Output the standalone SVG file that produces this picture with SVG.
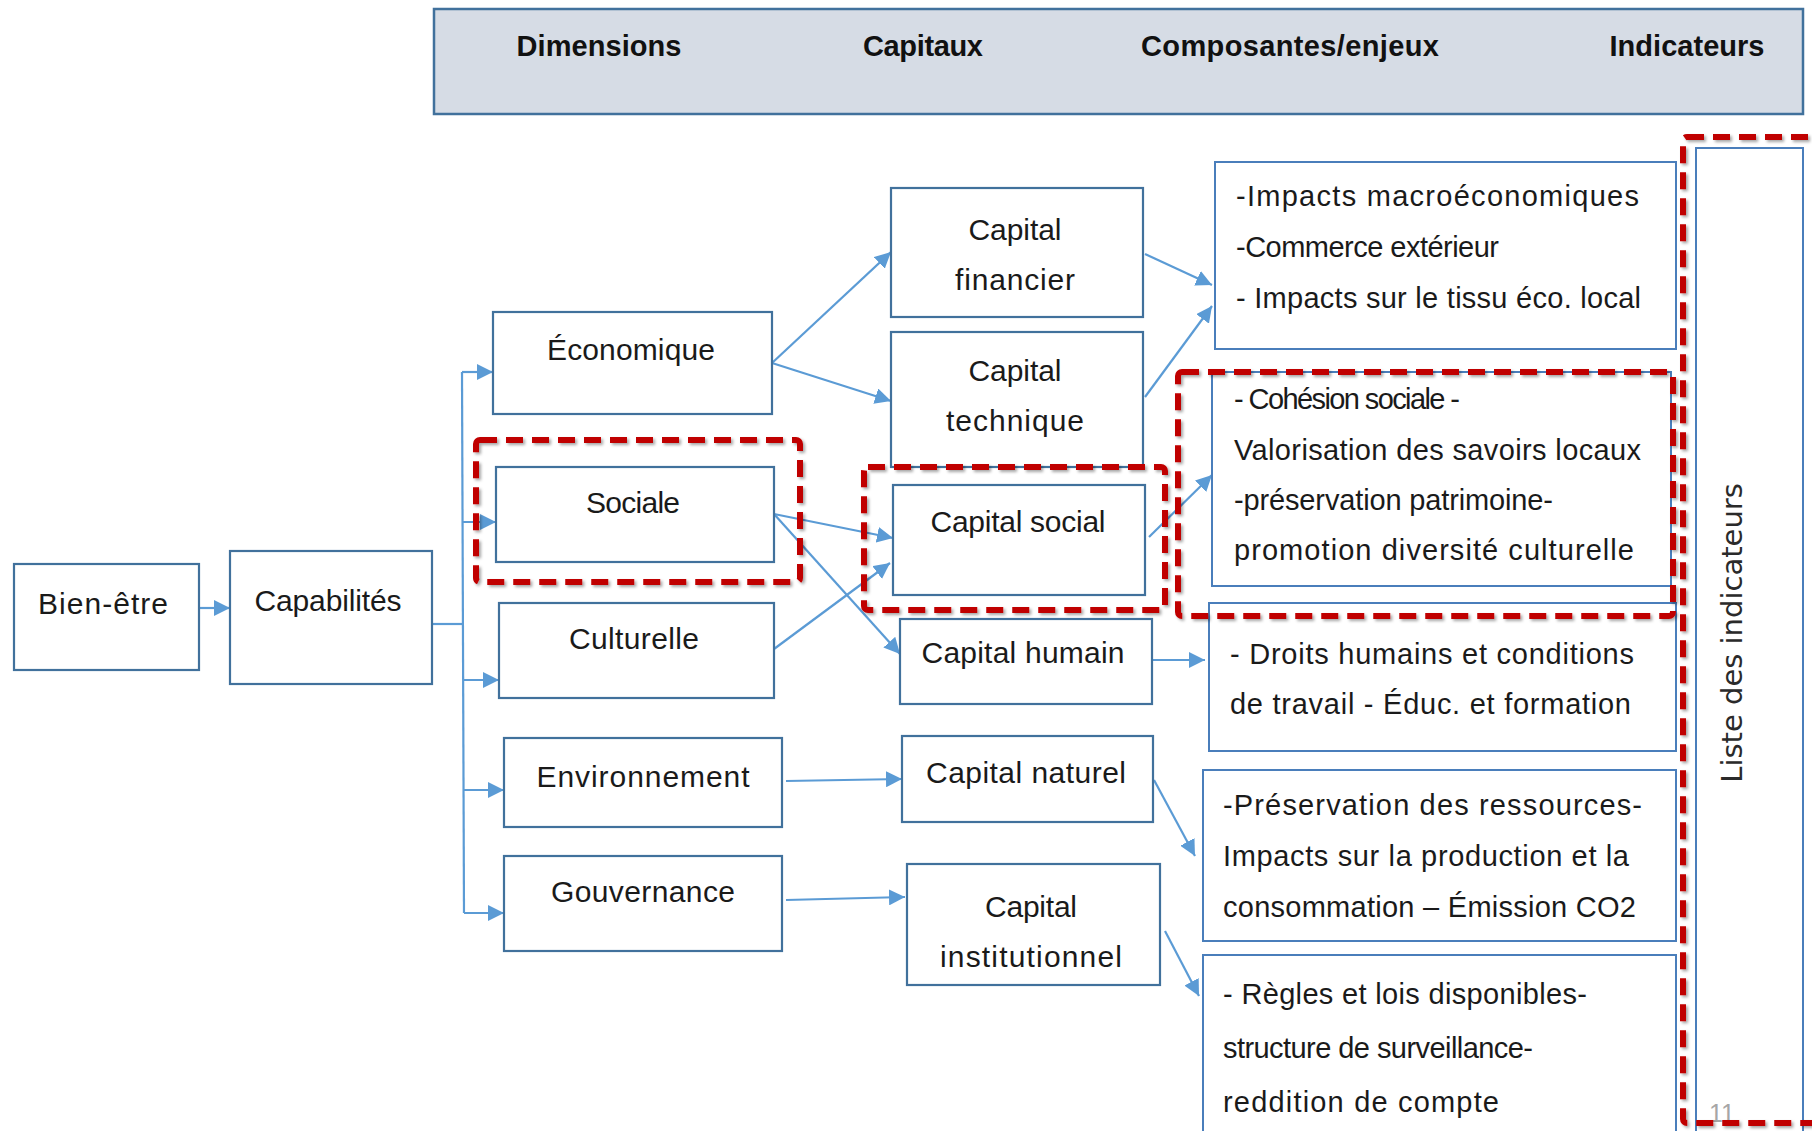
<svg xmlns="http://www.w3.org/2000/svg" width="1812" height="1131" viewBox="0 0 1812 1131">
<defs>
<style>
.node{fill:#fff;stroke:#41719c;stroke-width:2.2}
.rbox{fill:#fff;stroke:#4a7ebb;stroke-width:2}
.t{font-family:"Liberation Sans",Arial,sans-serif;font-size:30px;fill:#1a1a1a;text-anchor:middle}
.tl{font-family:"Liberation Sans",Arial,sans-serif;font-size:29px;fill:#1a1a1a}
.h{font-family:"Liberation Sans",Arial,sans-serif;font-size:29px;font-weight:bold;fill:#111;text-anchor:middle}
.c{fill:none;stroke:#5b9bd5;stroke-width:2.2}
.red{fill:none;stroke:#c00000;stroke-width:6;stroke-dasharray:17 9;filter:url(#sh)}
</style>
<marker id="arr" markerUnits="userSpaceOnUse" viewBox="0 0 10 10" markerWidth="16" markerHeight="16" refX="10" refY="5" orient="auto">
<path d="M0,0 L10,5 L0,10 z" fill="#5b9bd5"/>
</marker>
<filter id="sh" x="-5%" y="-5%" width="110%" height="110%">
<feDropShadow dx="2" dy="2" stdDeviation="1.5" flood-color="#000" flood-opacity="0.35"/>
</filter>
</defs>
<rect width="1812" height="1131" fill="#fff"/>

<g id="header">
<rect x="434" y="9" width="1369" height="105" fill="#d6dce5" stroke="#41719c" stroke-width="2.5"/>
<text class="h" x="599" y="56" textLength="165" lengthAdjust="spacing">Dimensions</text>
<text class="h" x="923" y="56" textLength="120" lengthAdjust="spacing">Capitaux</text>
<text class="h" x="1290" y="56" textLength="298" lengthAdjust="spacing">Composantes/enjeux</text>
<text class="h" x="1687" y="56" textLength="155" lengthAdjust="spacing">Indicateurs</text>
</g>

<g id="connectors">
<line class="c" x1="199" y1="608" x2="230" y2="608" marker-end="url(#arr)"/>
<line class="c" x1="432" y1="624" x2="462" y2="624"/>
<line class="c" x1="462" y1="372" x2="464" y2="913"/>
<line class="c" x1="462" y1="372" x2="493" y2="372" marker-end="url(#arr)"/>
<line class="c" x1="463" y1="522" x2="496" y2="522" marker-end="url(#arr)"/>
<line class="c" x1="463" y1="680" x2="499" y2="680" marker-end="url(#arr)"/>
<line class="c" x1="464" y1="790" x2="504" y2="790" marker-end="url(#arr)"/>
<line class="c" x1="464" y1="913" x2="504" y2="913" marker-end="url(#arr)"/>
<line class="c" x1="772" y1="363" x2="891" y2="252" marker-end="url(#arr)"/>
<line class="c" x1="772" y1="363" x2="891" y2="401" marker-end="url(#arr)"/>
<line class="c" x1="774" y1="514" x2="893" y2="538" marker-end="url(#arr)"/>
<line class="c" x1="774" y1="514" x2="900" y2="654" marker-end="url(#arr)"/>
<line class="c" x1="774" y1="649" x2="890" y2="563" marker-end="url(#arr)"/>
<line class="c" x1="786" y1="781" x2="902" y2="779" marker-end="url(#arr)"/>
<line class="c" x1="786" y1="900" x2="905" y2="897" marker-end="url(#arr)"/>
<line class="c" x1="1145" y1="254" x2="1212" y2="285" marker-end="url(#arr)"/>
<line class="c" x1="1145" y1="397" x2="1212" y2="306" marker-end="url(#arr)"/>
<line class="c" x1="1149" y1="537" x2="1212" y2="475" marker-end="url(#arr)"/>
<line class="c" x1="1152" y1="660" x2="1205" y2="660" marker-end="url(#arr)"/>
<line class="c" x1="1154" y1="780" x2="1195" y2="856" marker-end="url(#arr)"/>
<line class="c" x1="1165" y1="931" x2="1199" y2="996" marker-end="url(#arr)"/>
</g>

<g id="bien-etre"><rect class="node" x="14" y="564" width="185" height="106"/><text class="t" x="103" y="614" textLength="130" lengthAdjust="spacing">Bien-être</text></g>
<g id="capabilites"><rect class="node" x="230" y="551" width="202" height="133"/><text class="t" x="328" y="611" textLength="147" lengthAdjust="spacing">Capabilités</text></g>

<g id="economique"><rect class="node" x="493" y="312" width="279" height="102"/><text class="t" x="631" y="360" textLength="168" lengthAdjust="spacing">Économique</text></g>
<g id="sociale"><rect class="node" x="496" y="467" width="278" height="95"/><text class="t" x="633" y="513" textLength="94" lengthAdjust="spacing">Sociale</text></g>
<g id="culturelle"><rect class="node" x="499" y="603" width="275" height="95"/><text class="t" x="634" y="649" textLength="130" lengthAdjust="spacing">Culturelle</text></g>
<g id="environnement"><rect class="node" x="504" y="738" width="278" height="89"/><text class="t" x="643" y="787" textLength="213" lengthAdjust="spacing">Environnement</text></g>
<g id="gouvernance"><rect class="node" x="504" y="856" width="278" height="95"/><text class="t" x="643" y="902" textLength="184" lengthAdjust="spacing">Gouvernance</text></g>

<g id="capital-financier"><rect class="node" x="891" y="188" width="252" height="129"/><text class="t" x="1015" y="240" textLength="93" lengthAdjust="spacing">Capital</text><text class="t" x="1015" y="290" textLength="120" lengthAdjust="spacing">financier</text></g>
<g id="capital-technique"><rect class="node" x="891" y="332" width="252" height="135"/><text class="t" x="1015" y="381" textLength="93" lengthAdjust="spacing">Capital</text><text class="t" x="1015" y="431" textLength="138" lengthAdjust="spacing">technique</text></g>
<g id="capital-social"><rect class="node" x="893" y="485" width="252" height="110"/><text class="t" x="1018" y="532" textLength="175" lengthAdjust="spacing">Capital social</text></g>
<g id="capital-humain"><rect class="node" x="900" y="619" width="252" height="85"/><text class="t" x="1023" y="663" textLength="203" lengthAdjust="spacing">Capital humain</text></g>
<g id="capital-naturel"><rect class="node" x="902" y="736" width="251" height="86"/><text class="t" x="1026" y="783" textLength="200" lengthAdjust="spacing">Capital naturel</text></g>
<g id="capital-institutionnel"><rect class="node" x="907" y="864" width="253" height="121"/><text class="t" x="1031" y="917" textLength="92" lengthAdjust="spacing">Capital</text><text class="t" x="1031" y="967" textLength="182" lengthAdjust="spacing">institutionnel</text></g>

<g id="enjeux-economiques"><rect class="rbox" x="1215" y="162" width="461" height="187"/>
<text class="tl" x="1236" y="206" textLength="403" lengthAdjust="spacing">-Impacts  macroéconomiques</text>
<text class="tl" x="1236" y="257" textLength="263" lengthAdjust="spacing">-Commerce extérieur</text>
<text class="tl" x="1236" y="308" textLength="405" lengthAdjust="spacing">- Impacts sur le tissu éco. local</text></g>
<g id="enjeux-sociaux"><rect class="rbox" x="1212" y="372" width="459" height="214"/>
<text class="tl" x="1234" y="409" textLength="226" lengthAdjust="spacing">- Cohésion sociale -</text>
<text class="tl" x="1234" y="460" textLength="407" lengthAdjust="spacing">Valorisation des savoirs locaux</text>
<text class="tl" x="1234" y="510" textLength="319" lengthAdjust="spacing">-préservation patrimoine-</text>
<text class="tl" x="1234" y="560" textLength="400" lengthAdjust="spacing">promotion diversité culturelle</text></g>
<g id="enjeux-humains"><rect class="rbox" x="1209" y="603" width="467" height="148"/>
<text class="tl" x="1230" y="664" textLength="404" lengthAdjust="spacing">- Droits humains et conditions</text>
<text class="tl" x="1230" y="714" textLength="401" lengthAdjust="spacing">de travail - Éduc. et formation</text></g>
<g id="enjeux-naturels"><rect class="rbox" x="1203" y="770" width="473" height="171"/>
<text class="tl" x="1223" y="815" textLength="419" lengthAdjust="spacing">-Préservation des ressources-</text>
<text class="tl" x="1223" y="866" textLength="406" lengthAdjust="spacing">Impacts sur la production et la</text>
<text class="tl" x="1223" y="917" textLength="413" lengthAdjust="spacing">consommation – Émission CO2</text></g>
<g id="enjeux-institutionnels"><rect class="rbox" x="1203" y="955" width="473" height="190"/>
<text class="tl" x="1223" y="1004" textLength="364" lengthAdjust="spacing">- Règles et lois disponibles-</text>
<text class="tl" x="1223" y="1058" textLength="310" lengthAdjust="spacing">structure de surveillance-</text>
<text class="tl" x="1223" y="1112" textLength="276" lengthAdjust="spacing">reddition de compte</text></g>

<g id="indicateurs"><rect class="rbox" x="1696" y="148" width="107" height="1000"/>
<text transform="translate(1742,633) rotate(-90)" text-anchor="middle" font-family="'DejaVu Sans',sans-serif" font-size="29" fill="#2a2a2a">Liste des indicateurs</text></g>

<text x="1722" y="1122" text-anchor="middle" font-family="'Liberation Sans',Arial,sans-serif" font-size="25" fill="#a6a6a6">11</text>

<g id="highlights">
<rect class="red" x="476" y="440" width="324" height="142" rx="4"/>
<rect class="red" x="864" y="467" width="301" height="143" rx="4"/>
<rect class="red" x="1178" y="372" width="495" height="244" rx="4"/>
<rect class="red" x="1683" y="137" width="150" height="986" rx="4"/>
</g>
</svg>
